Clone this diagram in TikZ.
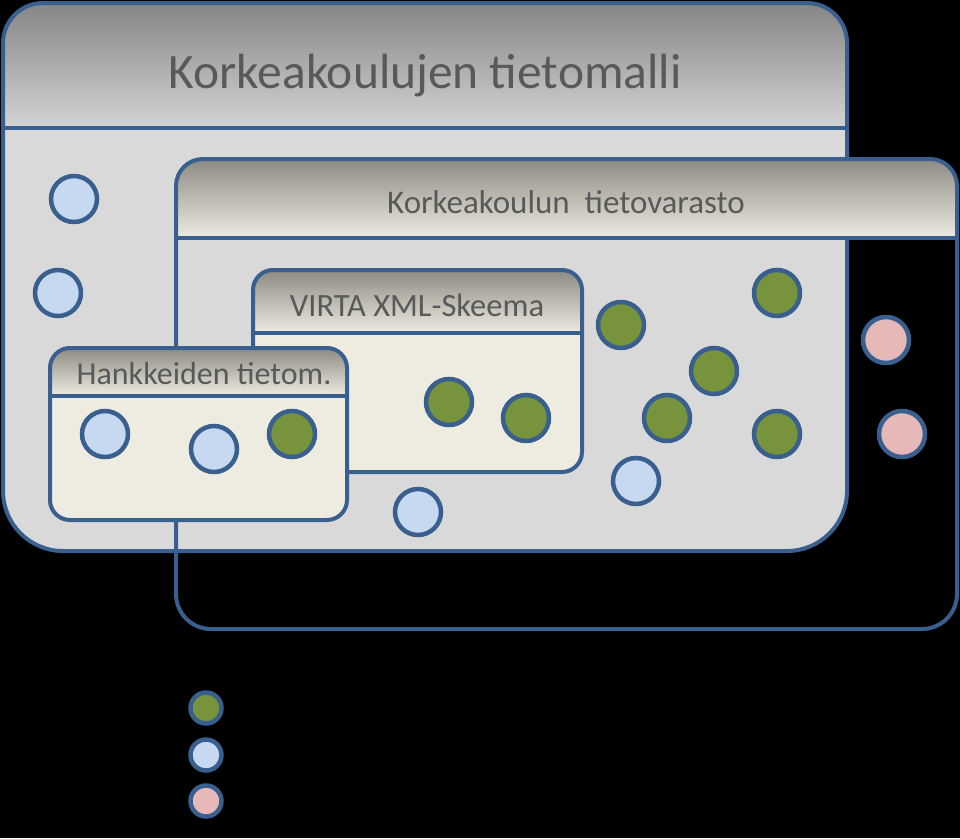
\documentclass[tikz,border=0pt]{standalone}
\usepackage{fontspec}
\setmainfont{Carlito}
\usepackage{xcolor}
\usetikzlibrary{positioning}

\tikzset{
  framepath/.style n args={6}{insert path={(#1,{(#2+#4)/2}) [rounded corners=#5] -- (#1,#2) -- (#3,#2) -- (#3,{(#2+#4)/2}) [rounded corners=#6] -- (#3,#4) -- (#1,#4) -- cycle}},
  boxline/.style={draw=edgeblue, line width=4pt},
  title/.style={text=titlegray, anchor=base, inner sep=0pt},
  ball/.style={circle, draw=edgeblue, line width=4.5pt, minimum size=46pt, inner sep=0pt},
  greenball/.style={ball, fill=ballgreen},
  blueball/.style={ball, fill=ballblue},
  pinkball/.style={ball, fill=ballpink},
  keyball/.style={minimum size=31pt},
}

\begin{document}
\begin{tikzpicture}[x=1pt, y=-1pt]
\definecolor{edgeblue}{HTML}{385F8E}
\definecolor{titlegray}{HTML}{595959}
\definecolor{bodygray}{HTML}{D9D9D9}
\definecolor{headtop}{HTML}{858585}
\definecolor{headbot}{HTML}{D4D4D4}
\definecolor{tantop}{HTML}{8C8A83}
\definecolor{tanbot}{HTML}{EEECE1}
\definecolor{ballgreen}{HTML}{77933C}
\definecolor{ballblue}{HTML}{C6D9F1}
\definecolor{ballpink}{HTML}{E6B9B8}

\fill[black] (0,0) rectangle (960,838);
\useasboundingbox (0,0) rectangle (960,838);

% korkeakoulujen tietomalli
\begin{scope}
  \path[clip, framepath={3}{3}{847}{551}{40pt}{60pt}];
  \fill[bodygray] (3,3) rectangle (847,551);
  \shade[top color=headtop, bottom color=headbot] (3,3) rectangle (847,128);
\end{scope}
\path[boxline, framepath={3}{3}{847}{551}{40pt}{60pt}];
\draw[boxline] (3,128) -- (847,128);
\node[title, font=\fontsize{49.5}{49.5}\selectfont] (modeltitle) at (425,88) {Korkeakoulujen tietomalli};

% korkeakoulun tietovarasto
\begin{scope}
  \path[clip, framepath={176}{159}{957}{629}{27pt}{35pt}];
  \shade[top color=tantop, bottom color=tanbot] (176,159) rectangle (957,238);
\end{scope}
\path[boxline, framepath={176}{159}{957}{629}{27pt}{35pt}];
\draw[boxline] (176,238) -- (957,238);
\node[title, font=\fontsize{33}{33}\selectfont] (storetitle) at (566,213) {Korkeakoulun\ \ tietovarasto};

% VIRTA
\begin{scope}
  \path[clip, framepath={253}{270}{582}{472}{20pt}{20pt}];
  \fill[tanbot] (253,270) rectangle (582,472);
  \shade[top color=tantop, bottom color=tanbot] (253,270) rectangle (582,333);
\end{scope}
\path[boxline, framepath={253}{270}{582}{472}{20pt}{20pt}];
\draw[boxline] (253,333) -- (582,333);
\node[title, font=\fontsize{32.5}{32.5}\selectfont] (virtatitle) at (417,316) {VIRTA XML-Skeema};

% hankkeet
\begin{scope}
  \path[clip, framepath={50}{348}{347}{520}{20pt}{20pt}];
  \fill[tanbot] (50,348) rectangle (347,520);
  \shade[top color=tantop, bottom color=tanbot] (50,348) rectangle (347,396);
\end{scope}
\path[boxline, framepath={50}{348}{347}{520}{20pt}{20pt}];
\draw[boxline] (50,396) -- (347,396);
\node[title, font=\fontsize{32}{32}\selectfont] (projtitle) at (204,384) {Hankkeiden tietom.};

% pallot
\foreach \x/\y [count=\i] in {74/199, 58/293, 105/434, 214/449, 418/512, 636/481}
  \node[blueball] (blue\i) at (\x,\y) {};
\foreach \x/\y [count=\i] in {292/434, 449/402, 526/418, 621/325, 777/293, 714/371, 667/418, 777/434}
  \node[greenball] (green\i) at (\x,\y) {};
\foreach \x/\y [count=\i] in {886/340, 902/434}
  \node[pinkball] (pink\i) at (\x,\y) {};

% selite
\node[greenball, keyball] (keygreen) at (206,708) {};
\node[blueball, keyball] (keyblue) at (206,755) {};
\node[pinkball, keyball] (keypink) at (206,801) {};
\end{tikzpicture}
\end{document}
